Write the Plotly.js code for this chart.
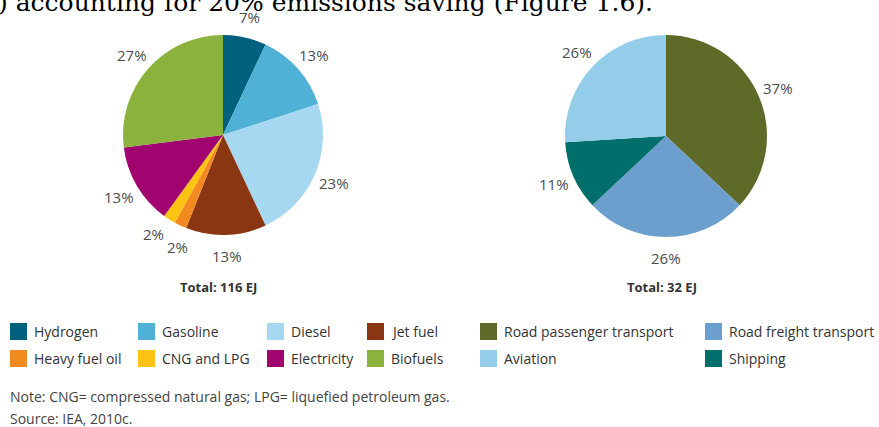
<!DOCTYPE html>
<html>
<head>
<meta charset="utf-8">
<script src="https://cdn.plot.ly/plotly-3.0.1.min.js"></script>
<style>html,body{margin:0;padding:0;background:#fff;}#chart{width:879px;height:427px;}</style>
</head>
<body>
<div id="chart"></div>
<script>
// ---- data ----
const fuelLabels = ["Hydrogen", "Gasoline", "Diesel", "Jet fuel", "Heavy fuel oil", "CNG and LPG", "Electricity", "Biofuels"];
const fuelShares = [7, 13, 23, 13, 2, 2, 13, 27];
const fuelColors = ["#00617f", "#4fb1d6", "#a7d8f1", "#8b3613", "#f38a20", "#fdc313", "#a2046f", "#8bb23d"];

const modeLabels = ["Road passenger transport", "Road freight transport", "Shipping", "Aviation"];
const modeShares = [37, 26, 11, 26];
const modeColors = ["#5d6a28", "#6c9fcd", "#006f6c", "#93cde9"];

const totals = [116, 32];
const totalUnit = "EJ";

// legend order as printed under each pie
const fuelLegendOrder = ["Hydrogen", "Gasoline", "Diesel", "Jet fuel", "Heavy fuel oil", "CNG and LPG", "Electricity", "Biofuels"];
const modeLegendOrder = ["Road passenger transport", "Road freight transport", "Aviation", "Shipping"];

const headerText = ") accounting for 20% emissions saving (Figure 1.6).";
const noteText = "Note: CNG= compressed natural gas; LPG= liquefied petroleum gas.";
const sourceText = "Source: IEA, 2010c.";

// ---- layout helpers ----
const W = 879, H = 427;
const px = v => v / W;
const py = v => 1 - v / H;
const FONT = "Open Sans, sans-serif";
const TXT = "#4d4d4d";

const pieBoxes = [
  {x0: 123, x1: 323, y0: 35, y1: 235},
  {x0: 565, x1: 767, y0: 35, y1: 237}
];

const shapes = [];
const annotations = [];

function makePie(labels, values, colors, box) {
  return {
    type: "pie", sort: false, direction: "clockwise", rotation: 0,
    labels: labels, values: values, textinfo: "none",
    marker: {colors: colors, line: {width: 0}},
    domain: {x: [px(box.x0), px(box.x1)], y: [py(box.y1), py(box.y0)]},
    showlegend: false, hoverinfo: "label+percent"
  };
}

// percent labels placed outside each slice along its mid-angle,
// neighbouring labels of tiny slices spread apart to a minimum angular gap
function pieLabels(values, box) {
  const cx = (box.x0 + box.x1) / 2, cy = (box.y0 + box.y1) / 2;
  const r = Math.min(box.x1 - box.x0, box.y1 - box.y0) / 2;
  const R = r + 21;
  const total = values.reduce((a, b) => a + b, 0);
  const minSep = 13 * Math.PI / 180;
  let cum = 0;
  const ang = values.map(v => { const a = 2 * Math.PI * (cum + v / 2) / total; cum += v; return a; });
  for (let i = 1; i < ang.length; i++) {
    const d = ang[i] - ang[i - 1];
    if (d < minSep) { const s = (minSep - d) / 2; ang[i - 1] -= s; ang[i] += s; }
  }
  values.forEach((v, i) => {
    const a = ang[i];
    annotations.push({xref: "paper", yref: "paper",
      x: px(cx + R * Math.sin(a)), y: py(cy - R * Math.cos(a)),
      xanchor: "center", yanchor: "middle", showarrow: false,
      text: Math.round(100 * v / total) + "%",
      font: {family: FONT, size: 15, color: TXT}});
  });
}

const traces = [
  makePie(fuelLabels, fuelShares, fuelColors, pieBoxes[0]),
  makePie(modeLabels, modeShares, modeColors, pieBoxes[1])
];
pieLabels(fuelShares, pieBoxes[0]);
pieLabels(modeShares, pieBoxes[1]);

function legendBlock(order, labels, colors, cols, rowsY) {
  order.forEach((lab, i) => {
    const c = colors[labels.indexOf(lab)];
    const col = i % cols.length, row = Math.floor(i / cols.length);
    const x0 = cols[col], yc = rowsY[row];
    shapes.push({type: "rect", xref: "paper", yref: "paper",
      x0: px(x0), x1: px(x0 + 17), y0: py(yc + 8.5), y1: py(yc - 8.5),
      fillcolor: c, line: {width: 0}});
    annotations.push({xref: "paper", yref: "paper", x: px(x0 + 22), y: py(yc),
      xanchor: "left", yanchor: "middle", showarrow: false, text: lab,
      font: {family: FONT, size: 14, color: "#333"}});
  });
}
legendBlock(fuelLegendOrder, fuelLabels, fuelColors, [10, 138, 267, 367], [331.5, 358.5]);
legendBlock(modeLegendOrder, modeLabels, modeColors, [480, 705], [331.5, 358.5]);

annotations.push(
  {xref: "paper", yref: "paper", x: px(218), y: py(287), xanchor: "center", yanchor: "middle",
   showarrow: false, text: "<b>Total: " + totals[0] + " " + totalUnit + "</b>",
   font: {family: FONT, size: 13, color: "#333"}},
  {xref: "paper", yref: "paper", x: px(662), y: py(287), xanchor: "center", yanchor: "middle",
   showarrow: false, text: "<b>Total: " + totals[1] + " " + totalUnit + "</b>",
   font: {family: FONT, size: 13, color: "#333"}},
  {xref: "paper", yref: "paper", x: px(8), y: py(396), xanchor: "left", yanchor: "middle",
   showarrow: false, text: noteText, font: {family: FONT, size: 14, color: "#444"}},
  {xref: "paper", yref: "paper", x: px(8), y: py(418.5), xanchor: "left", yanchor: "middle",
   showarrow: false, text: sourceText, font: {family: FONT, size: 14, color: "#444"}},
  {xref: "paper", yref: "paper", x: px(-4), y: py(2), xanchor: "left", yanchor: "middle",
   showarrow: false, text: headerText, font: {family: "DejaVu Serif, serif", size: 25, color: "#000"}}
);

const layout = {
  width: W, height: H,
  margin: {l: 0, r: 0, t: 0, b: 0, pad: 0, autoexpand: false},
  paper_bgcolor: "#fff", plot_bgcolor: "#fff",
  showlegend: false,
  shapes: shapes, annotations: annotations,
  font: {family: FONT}
};

Plotly.newPlot("chart", traces, layout, {displayModeBar: false, staticPlot: true});
</script>
</body>
</html>
